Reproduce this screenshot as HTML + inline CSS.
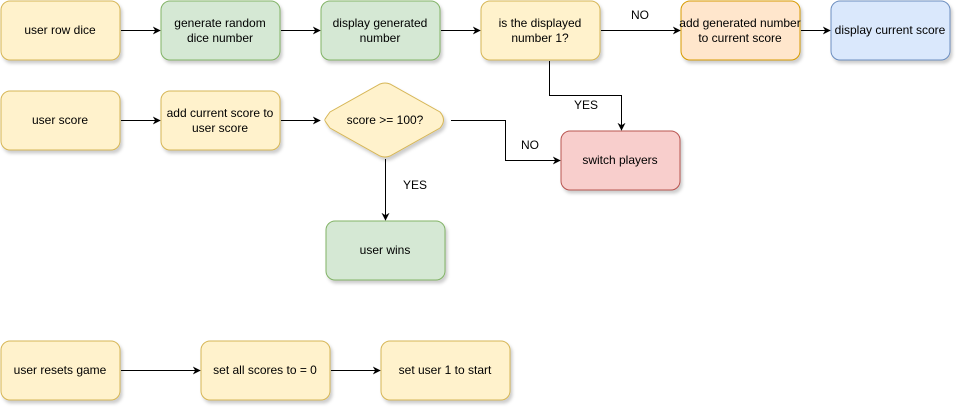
<!DOCTYPE html>
<html><head><meta charset="utf-8"><style>
html,body{margin:0;padding:0;background:#fff;}
body{width:962px;height:412px;overflow:hidden;}
text{font-family:"Liberation Sans",Helvetica,Arial,sans-serif;font-size:12px;fill:#000;}
</style></head><body>
<svg width="962" height="412" viewBox="0 0 962 412" xmlns="http://www.w3.org/2000/svg">
<defs>
<filter id="sh" x="-10%" y="-10%" width="130%" height="140%"><feDropShadow dx="2" dy="3" stdDeviation="1.5" flood-color="#000" flood-opacity="0.2"/></filter>
<marker id="ar" viewBox="0 0 10 10" refX="9" refY="5" markerWidth="8" markerHeight="8" orient="auto" markerUnits="userSpaceOnUse"><path d="M0,0 L10,5 L0,10 L3,5 z" fill="#000"/></marker>
</defs>
<g filter="url(#sh)" stroke-width="1">
<rect x="1" y="1" width="119" height="59" rx="9" fill="#fff2cc" stroke="#d6b656"/>
<rect x="161" y="1" width="119" height="59" rx="9" fill="#d5e8d4" stroke="#82b366"/>
<rect x="321" y="1" width="119" height="59" rx="9" fill="#d5e8d4" stroke="#82b366"/>
<rect x="481" y="1" width="119" height="59" rx="9" fill="#fff2cc" stroke="#d6b656"/>
<rect x="681" y="1" width="119" height="59" rx="9" fill="#ffe6cc" stroke="#d79b00"/>
<rect x="831" y="1" width="119" height="59" rx="9" fill="#dae8fc" stroke="#6c8ebf"/>
<rect x="1" y="91" width="119" height="59" rx="9" fill="#fff2cc" stroke="#d6b656"/>
<rect x="161" y="91" width="119" height="59" rx="9" fill="#fff2cc" stroke="#d6b656"/>
<path d="M325,120 Q324,120 330,112 L380,84 Q385,82 390,84 L440,112 Q447,120 440,128 L390,156 Q385,158 380,156 L330,128 Q324,120 325,120 z" fill="#fff2cc" stroke="#d6b656"/>
<rect x="561" y="131" width="119" height="59" rx="9" fill="#f8cecc" stroke="#b85450"/>
<rect x="326" y="221" width="119" height="59" rx="9" fill="#d5e8d4" stroke="#82b366"/>
<rect x="1" y="341" width="119" height="59" rx="9" fill="#fff2cc" stroke="#d6b656"/>
<rect x="201" y="341" width="129" height="59" rx="9" fill="#fff2cc" stroke="#d6b656"/>
<rect x="381" y="341" width="129" height="59" rx="9" fill="#fff2cc" stroke="#d6b656"/>
</g>
<g stroke="#000" stroke-width="1" fill="none" marker-end="url(#ar)">
<path d="M121,30.5 H160"/>
<path d="M281,30.5 H320"/>
<path d="M441,30.5 H480"/>
<path d="M601,30.5 H680"/>
<path d="M801,30.5 H830"/>
<path d="M121,120.5 H160"/>
<path d="M281,120.5 H320"/>
<path d="M451,120.5 H505.5 V160.5 H560"/>
<path d="M549.5,61 V95.5 H621.5 V130"/>
<path d="M385.5,159 V220"/>
<path d="M121,370.5 H200"/>
<path d="M331,370.5 H380"/>
</g>
<g text-anchor="middle">
<text x="60" y="34">user row dice</text>
<text x="220" y="27">generate random</text><text x="220" y="42">dice number</text>
<text x="380" y="27">display generated</text><text x="380" y="42">number</text>
<text x="540" y="27">is the displayed</text><text x="540" y="42">number 1?</text>
<text x="740" y="27">add generated number</text><text x="740" y="42">to current score</text>
<text x="890" y="34">display current score</text>
<text x="640" y="19">NO</text>
<text x="60" y="124">user score</text>
<text x="220" y="117">add current score to</text><text x="220" y="132">user score</text>
<text x="385" y="124">score &gt;= 100?</text>
<text x="586" y="109">YES</text>
<text x="530" y="149">NO</text>
<text x="620" y="164">switch players</text>
<text x="415" y="189">YES</text>
<text x="385" y="254">user wins</text>
<text x="60" y="374">user resets game</text>
<text x="265" y="374">set all scores to = 0</text>
<text x="445" y="374">set user 1 to start</text>
</g>
</svg>
</body></html>
